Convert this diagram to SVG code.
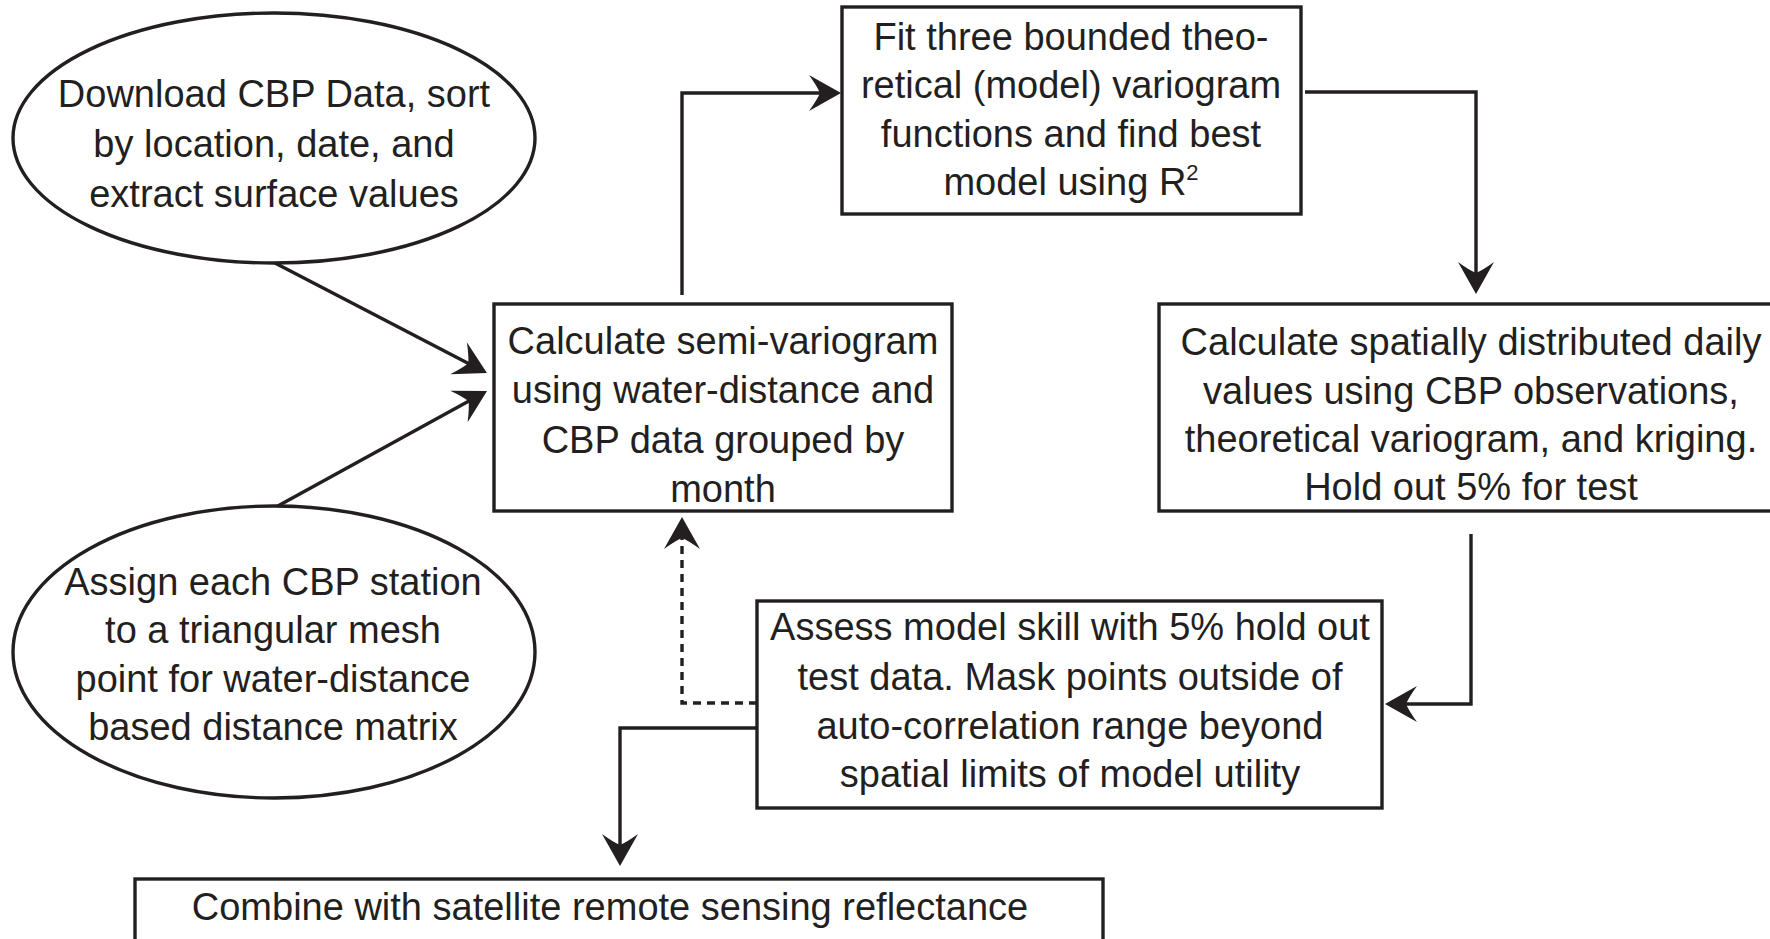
<svg xmlns="http://www.w3.org/2000/svg" width="1770" height="939" viewBox="0 0 1770 939">
<style>
.shape{fill:#fff;stroke:#231f20;stroke-width:3.4}
.t{font-family:"Liberation Sans",Arial,sans-serif;font-size:38px;fill:#231f20;text-anchor:middle}
.c{fill:none;stroke:#231f20;stroke-width:3.4}
.d{stroke-dasharray:8 6}
</style>
<defs>
<marker id="ah" markerUnits="userSpaceOnUse" viewBox="-34 -19 36 38" markerWidth="36" markerHeight="38" refX="-4" refY="0" orient="auto" overflow="visible">
<path d="M0 0 L-32 -18 Q-24 -7 -21 0 Q-24 7 -32 18 Z" fill="#231f20"/>
</marker>
</defs>
<rect x="0" y="0" width="1770" height="939" fill="#fff"/>
<g id="connectors">
<path class="c" d="M275 263 L483.4 371.2" marker-end="url(#ah)"/>
<path class="c" d="M276 507 L483.5 393" marker-end="url(#ah)"/>
<path class="c" d="M682 295 L682 93 L837 93" marker-end="url(#ah)"/>
<path class="c" d="M1305 92 L1476 92 L1476 290" marker-end="url(#ah)"/>
<path class="c" d="M1471 534 L1471 704 L1389 704" marker-end="url(#ah)"/>
<path class="c" d="M757 728 L620 728 L620 862" marker-end="url(#ah)"/>
<path class="c d" d="M757 703 L682 703 L682 521" marker-end="url(#ah)"/>
</g>
<g id="download">
<ellipse class="shape" cx="274" cy="138" rx="261" ry="125"/>
<text class="t" x="274" y="107">Download CBP Data, sort</text>
<text class="t" x="274" y="157">by location, date, and</text>
<text class="t" x="274" y="207">extract surface values</text>
</g>
<g id="assign">
<ellipse class="shape" cx="274" cy="652" rx="261" ry="146"/>
<text class="t" x="273" y="595">Assign each CBP station</text>
<text class="t" x="273" y="643">to a triangular mesh</text>
<text class="t" x="273" y="692">point for water-distance</text>
<text class="t" x="273" y="740">based distance matrix</text>
</g>
<g id="fit">
<rect class="shape" x="842" y="7" width="459" height="207"/>
<text class="t" x="1071" y="50">Fit three bounded theo-</text>
<text class="t" x="1071" y="98">retical (model) variogram</text>
<text class="t" x="1071" y="147">functions and find best</text>
<text class="t" x="1071" y="195">model using R<tspan font-size="22" dy="-15">2</tspan></text>
</g>
<g id="semivariogram">
<rect class="shape" x="494" y="304" width="458" height="207"/>
<text class="t" x="723" y="354">Calculate semi-variogram</text>
<text class="t" x="723" y="403">using water-distance and</text>
<text class="t" x="723" y="453">CBP data grouped by</text>
<text class="t" x="723" y="502">month</text>
</g>
<g id="spatial">
<rect class="shape" x="1159" y="304" width="640" height="207"/>
<text class="t" x="1471" y="355">Calculate spatially distributed daily</text>
<text class="t" x="1471" y="404">values using CBP observations,</text>
<text class="t" x="1471" y="452">theoretical variogram, and kriging.</text>
<text class="t" x="1471" y="500">Hold out 5% for test</text>
</g>
<g id="assess">
<rect class="shape" x="757" y="601" width="625" height="207"/>
<text class="t" x="1070" y="640">Assess model skill with 5% hold out</text>
<text class="t" x="1070" y="690">test data. Mask points outside of</text>
<text class="t" x="1070" y="739">auto-correlation range beyond</text>
<text class="t" x="1070" y="787">spatial limits of model utility</text>
</g>
<g id="combine">
<rect class="shape" x="135" y="879" width="968" height="120"/>
<text class="t" x="610" y="920">Combine with satellite remote sensing reflectance</text>
</g>
</svg>
